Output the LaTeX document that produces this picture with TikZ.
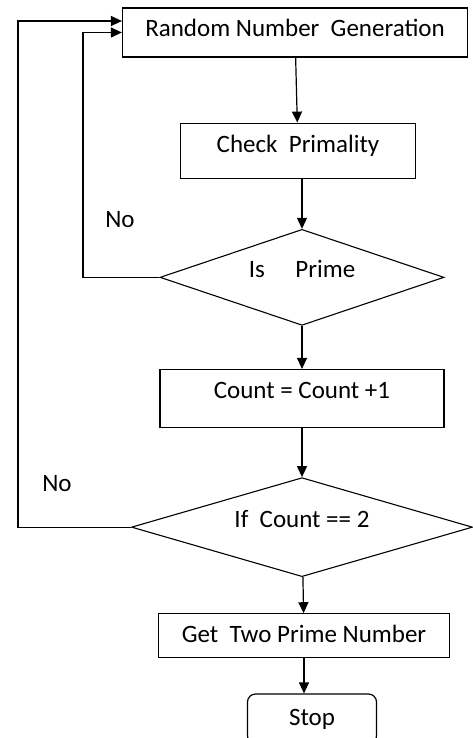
\documentclass[tikz,border=0pt]{standalone}
\usepackage{fontspec}
\setmainfont{Carlito}
\usetikzlibrary{arrows.meta,positioning,shapes.geometric}

\begin{document}
\begin{tikzpicture}[
  x=1pt, y=-1pt,
  font=\fontsize{25}{30}\selectfont,
  box/.style={draw, line width=1.2pt, inner sep=0pt, text height=17pt},
  dec/.style={draw, diamond, line width=1.1pt, inner sep=0pt,
              shape aspect=3, text height=17pt},
  arr/.style={-{Triangle[length=11pt,width=10pt]}, line width=1.2pt}
]
  \useasboundingbox (0,0) rectangle (472,738);
  \node[box, minimum width=345pt, minimum height=49pt, text depth=8pt] (rng) at (295,32.5) {Random Number\ \ Generation};
  \node[box, minimum width=235pt, minimum height=55pt, text depth=14pt, below=65pt of rng, xshift=3pt] (chk) {Check\ \ Primality};
  \node[dec, minimum width=284pt, minimum height=96pt, text depth=17pt, below=50pt of chk, xshift=4pt] (isp) {Is\quad\ Prime};
  \node[box, minimum width=284pt, minimum height=58pt, text depth=17pt, below=43pt of isp] (cnt) {Count = Count +1};
  \node[dec, minimum width=341pt, minimum height=99pt, text depth=16pt, below=49pt of cnt] (ifc) {If\ \ Count == 2};
  \node[box, minimum width=291pt, minimum height=44pt, text depth=3pt, below=36pt of ifc, xshift=2pt] (get) {Get\ \ Two Prime Number};
  \node[box, rounded corners=8pt, minimum width=129pt, minimum height=50pt, text depth=5pt, below=35pt of get, xshift=8pt] (stop) {Stop};
  \node (noA) at (120,220) {No};
  \node (noB) at (57,484) {No};
  \coordinate (innerx) at (83,0);
  \coordinate (outerx) at (18,0);
  \draw[arr] (rng) -- (chk);
  \draw[arr] (chk.south -| isp.north) -- (isp.north);
  \draw[arr] (isp) -- (cnt);
  \draw[arr] (cnt) -- (ifc);
  \draw[arr] (ifc) -- (get);
  \draw[arr] (get.south) -- (get.south |- stop.north);
  \draw[arr] (isp.west) -- (isp.west -| innerx) |- (rng.west);
  \draw[arr] (ifc.west) -- (ifc.west -| outerx) |- ([yshift=11.5pt]rng.west);
\end{tikzpicture}
\end{document}
